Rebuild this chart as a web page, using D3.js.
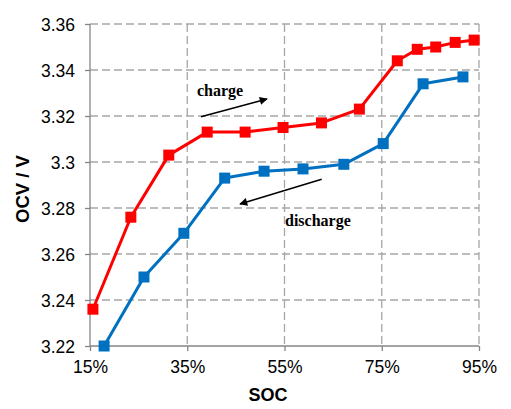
<!DOCTYPE html>
<html><head><meta charset="utf-8">
<script src="https://cdn.jsdelivr.net/npm/d3@7"></script>
<style>body{margin:0;background:#fff;}svg{display:block;}</style>
</head><body>
<script>
const chargeSoc = [15.6, 23.4, 31.2, 39.1, 46.9, 54.7, 62.6, 70.4, 78.2, 82.3, 86.1, 90.1, 94.0];
const chargeOcv = [3.236, 3.276, 3.303, 3.313, 3.313, 3.315, 3.317, 3.323, 3.344, 3.349, 3.350, 3.352, 3.353];
const dischargeSoc = [17.9, 26.1, 34.3, 42.7, 50.8, 58.8, 67.2, 75.3, 83.5, 91.7];
const dischargeOcv = [3.220, 3.250, 3.269, 3.293, 3.296, 3.297, 3.299, 3.308, 3.334, 3.337];
const xTicks = [15, 35, 55, 75, 95];
const yTicks = [3.22, 3.24, 3.26, 3.28, 3.30, 3.32, 3.34, 3.36];

const W = 511, H = 409;
const svg = d3.select("body").append("svg").attr("width", W).attr("height", H);
const x = d3.scaleLinear().domain([15, 95]).range([90, 479]);
const y = d3.scaleLinear().domain([3.22, 3.36]).range([346, 24]);
const sans = "Arial, 'Liberation Sans', sans-serif";
const serif = "'Liberation Serif', 'Times New Roman', serif";

// grid
const grid = svg.append("g").attr("stroke", "#a6a6a6").attr("stroke-width", 1.3).attr("stroke-dasharray", "8,4");
yTicks.filter(v => v > 3.22).forEach(v => {
  grid.append("line").attr("x1", x(15)).attr("x2", x(95)).attr("y1", y(v)).attr("y2", y(v));
});
xTicks.filter(v => v > 15).forEach(v => {
  grid.append("line").attr("x1", x(v)).attr("x2", x(v)).attr("y1", y(3.36)).attr("y2", y(3.22));
});

// axes
const fmtY = d => String(+d.toFixed(2));
const yAxis = d3.axisLeft(y).tickValues(yTicks).tickSize(5).tickPadding(10).tickFormat(fmtY);
const xAxis = d3.axisBottom(x).tickValues(xTicks).tickSize(5).tickPadding(10).tickFormat(d => d + "%");
const gy = svg.append("g").attr("transform", `translate(${x(15)},0)`).call(yAxis);
const gx = svg.append("g").attr("transform", `translate(0,${y(3.22)})`).call(xAxis);
[gy, gx].forEach(g => {
  g.selectAll("path, line").attr("stroke", "#868686").attr("stroke-width", 1.3);
  g.select(".domain").remove();
  g.selectAll("text").attr("font-family", sans).attr("font-size", 17.5).attr("fill", "#000");
});
gy.selectAll("text").attr("dy", "0.35em");
gx.selectAll("text").attr("y", 27).attr("dy", 0);
svg.append("line").attr("x1", x(15)).attr("x2", x(15)).attr("y1", y(3.36)).attr("y2", y(3.22)).attr("stroke", "#868686").attr("stroke-width", 1.3);
svg.append("line").attr("x1", x(15)).attr("x2", x(95)).attr("y1", y(3.22)).attr("y2", y(3.22)).attr("stroke", "#868686").attr("stroke-width", 1.3);

// series
function drawSeries(xs, ys, color) {
  const pts = xs.map((v, i) => [v, ys[i]]);
  const line = d3.line().x(d => x(d[0])).y(d => y(d[1]));
  svg.append("path").datum(pts).attr("d", line).attr("fill", "none").attr("stroke", color).attr("stroke-width", 3).attr("stroke-linejoin", "round");
  svg.append("g").selectAll("rect").data(pts).join("rect")
    .attr("x", d => x(d[0]) - 5.5).attr("y", d => y(d[1]) - 5.5)
    .attr("width", 11).attr("height", 11).attr("fill", color);
}
drawSeries(chargeSoc, chargeOcv, "#ff0000");
drawSeries(dischargeSoc, dischargeOcv, "#0070c0");

// annotations
const defs = svg.append("defs");
defs.append("marker").attr("id", "arr").attr("viewBox", "0 0 10 10").attr("refX", 9).attr("refY", 5)
  .attr("markerWidth", 10).attr("markerHeight", 8).attr("markerUnits", "userSpaceOnUse").attr("orient", "auto")
  .append("path").attr("d", "M0,0 L10,5 L0,10 Z").attr("fill", "#000");
svg.append("line").attr("x1", 201).attr("y1", 116.7).attr("x2", 267).attr("y2", 99).attr("stroke", "#000").attr("stroke-width", 1.5).attr("marker-end", "url(#arr)");
svg.append("line").attr("x1", 321.7).attr("y1", 179.3).attr("x2", 240).attr("y2", 204).attr("stroke", "#000").attr("stroke-width", 1.5).attr("marker-end", "url(#arr)");
svg.append("text").attr("x", 197).attr("y", 96).attr("font-family", serif).attr("font-weight", "bold").attr("font-size", 16).text("charge");
svg.append("text").attr("x", 285).attr("y", 226).attr("font-family", serif).attr("font-weight", "bold").attr("font-size", 16).text("discharge");

// axis titles
svg.append("text").attr("x", 268).attr("y", 401).attr("text-anchor", "middle").attr("font-family", sans).attr("font-weight", "bold").attr("font-size", 18).text("SOC");
svg.append("text").attr("transform", "translate(29,189) rotate(-90)").attr("text-anchor", "middle").attr("font-family", sans).attr("font-weight", "bold").attr("font-size", 18.5).text("OCV / V");
</script>
</body></html>
